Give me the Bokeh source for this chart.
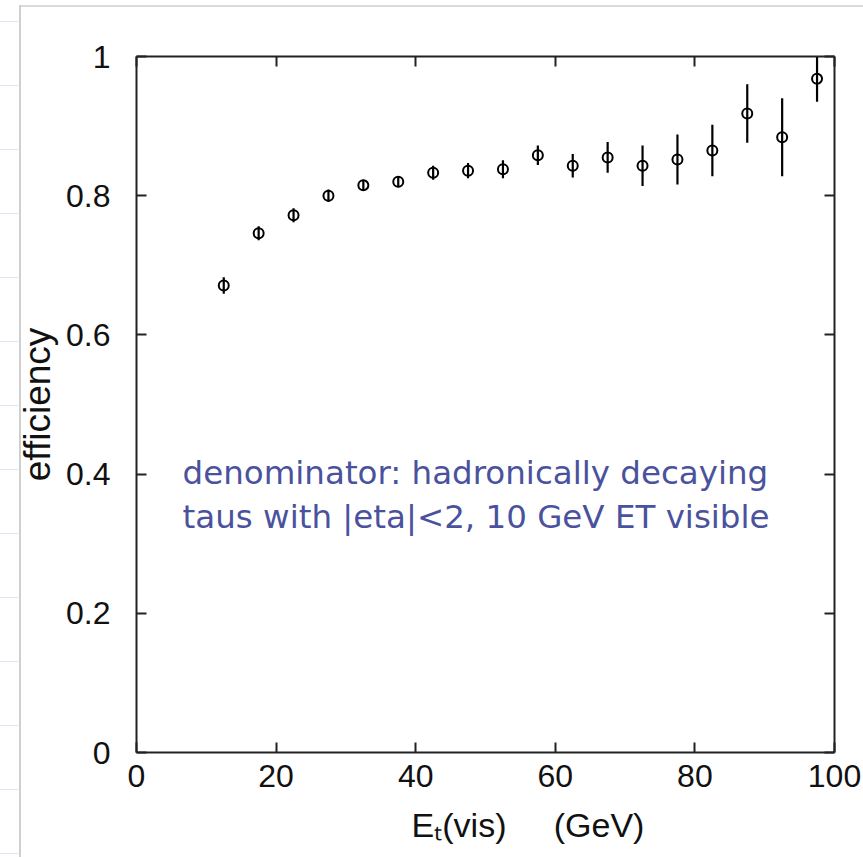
from bokeh.plotting import figure
from bokeh.models import Range1d, LinearAxis, FixedTicker, Label
from bokeh.embed import file_html
from bokeh.resources import INLINE

# ---- data ----
et_vis = [12.5, 17.5, 22.5, 27.5, 32.5, 37.5, 42.5, 47.5, 52.5,
          57.5, 62.5, 67.5, 72.5, 77.5, 82.5, 87.5, 92.5, 97.5]
efficiency = [0.671, 0.746, 0.772, 0.800, 0.815, 0.820, 0.833, 0.836, 0.838,
              0.858, 0.843, 0.855, 0.843, 0.852, 0.865, 0.918, 0.884, 0.968]
eff_err = [0.012, 0.010, 0.010, 0.009, 0.008, 0.008, 0.010, 0.011, 0.013,
           0.014, 0.017, 0.022, 0.029, 0.036, 0.037, 0.042, 0.056, 0.033]
x_ticks = [0, 20, 40, 60, 80, 100]
y_ticks = [0, 0.2, 0.4, 0.6, 0.8, 1.0]
y_tick_labels = {0: "0", 0.2: "0.2", 0.4: "0.4", 0.6: "0.6", 0.8: "0.8", 1.0: "1"}
note_lines = ["denominator: hadronically decaying",
              "taus with |eta|<2, 10 GeV ET visible"]
NB = "\u00a0"
x_title = NB * 9 + "E\u209c(vis)" + NB * 5 + "(GeV)"
y_title = "efficiency"

HFONT = "Liberation Sans"
AX = "#222222"

p = figure(width=863, height=857, output_backend="svg", toolbar_location=None,
           x_range=Range1d(0, 100), y_range=Range1d(0, 1),
           x_axis_location=None, y_axis_location=None,
           min_border_left=136, min_border_right=29,
           min_border_top=56, min_border_bottom=105)
p.grid.visible = False
p.outline_line_color = None
p.background_fill_color = "white"
p.border_fill_color = None
p.styles = {
    "background-color": "white",
    "background-image": (
        "linear-gradient(to right, #cfcfcf, #cfcfcf), "
        "linear-gradient(to right, #dadada, #dadada), "
        "repeating-linear-gradient(to bottom, transparent 0px, transparent 21px, "
        "#dfe5f7 21px, #dfe5f7 22px, transparent 22px, transparent 64px)"
    ),
    "background-size": "2px 852px, 843px 2px, 18px 857px",
    "background-position": "19px 5px, 20px 5px, 0px 0px",
    "background-repeat": "no-repeat",
}


def style_axis(ax, labels=True):
    ax.axis_line_color = AX
    ax.axis_line_width = 2
    ax.major_tick_line_color = AX
    ax.minor_tick_line_color = AX
    ax.major_tick_line_width = 2
    ax.minor_tick_line_width = 2
    ax.major_tick_in = 10
    ax.major_tick_out = 0
    ax.minor_tick_in = 6
    ax.minor_tick_out = 0
    if labels:
        ax.major_label_text_font = HFONT
        ax.major_label_text_font_size = "32px"
        ax.major_label_text_color = "#111111"
    else:
        ax.major_label_text_font_size = "0px"
        ax.major_label_text_alpha = 0


bottom = LinearAxis(ticker=FixedTicker(ticks=x_ticks, num_minor_ticks=2),
                    axis_label=x_title)
style_axis(bottom)
bottom.major_label_standoff = 12
bottom.axis_label_text_font = HFONT
bottom.axis_label_text_font_size = "34px"
bottom.axis_label_text_font_style = "normal"
bottom.axis_label_text_color = "#111111"
bottom.axis_label_standoff = 16
p.add_layout(bottom, "below")

left = LinearAxis(ticker=FixedTicker(ticks=y_ticks, num_minor_ticks=2),
                  axis_label=y_title)
style_axis(left)
left.major_label_overrides = y_tick_labels
left.major_label_standoff = 26
left.axis_label_text_font = HFONT
left.axis_label_text_font_size = "37px"
left.axis_label_text_font_style = "normal"
left.axis_label_text_color = "#111111"
left.axis_label_standoff = 5
p.add_layout(left, "left")

top = LinearAxis(ticker=FixedTicker(ticks=x_ticks, num_minor_ticks=2))
style_axis(top, labels=False)
p.add_layout(top, "above")

right = LinearAxis(ticker=FixedTicker(ticks=y_ticks, num_minor_ticks=2))
style_axis(right, labels=False)
p.add_layout(right, "right")

# error bars and markers
lo = [v - e for v, e in zip(efficiency, eff_err)]
hi = [v + e for v, e in zip(efficiency, eff_err)]
p.segment(x0=et_vis, y0=lo, x1=et_vis, y1=hi, line_color="black", line_width=2.2)
p.scatter(x=et_vis, y=efficiency, marker="circle", size=10,
          fill_alpha=0, line_color="black", line_width=2)

# note text
for txt, yy in zip(note_lines, [0.401, 0.339]):
    p.add_layout(Label(x=6.6, y=yy, text=txt, text_font="DejaVu Sans",
                       text_font_size="32.5px", text_color="#4a529e",
                       text_baseline="alphabetic"))

open("out.html", "w").write(file_html(p, INLINE))
